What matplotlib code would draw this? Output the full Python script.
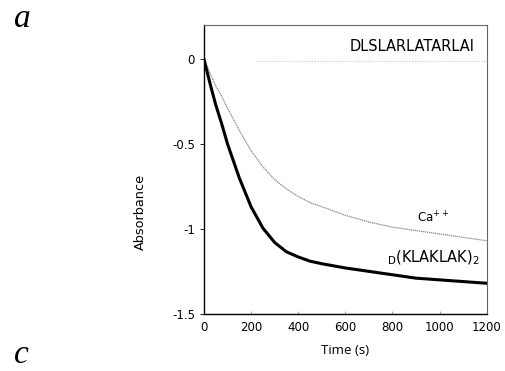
import matplotlib
matplotlib.use("Agg")
import matplotlib.pyplot as plt

# values (time in s, absorbance change)
t_vals = [0, 25, 50, 75, 100, 150, 200, 250, 300, 350, 400, 450, 500, 600, 700, 800, 900, 1000, 1100, 1200]
a_ca = [0, -0.08, -0.16, -0.22, -0.29, -0.42, -0.54, -0.635, -0.71, -0.765, -0.81, -0.845, -0.87, -0.92,
        -0.96, -0.99, -1.01, -1.03, -1.05, -1.07]
a_klak = [0, -0.14, -0.27, -0.38, -0.50, -0.70, -0.87, -0.995, -1.08, -1.135, -1.165, -1.19, -1.205, -1.23,
          -1.25, -1.27, -1.29, -1.30, -1.31, -1.32]

t_ctrl = [220, 500, 800, 1200]
a_ctrl = [-0.01, -0.01, -0.01, -0.01]

fig = plt.figure(figsize=(5.06, 3.71), dpi=100)
ax = fig.add_axes([0.403, 0.154, 0.559, 0.779])

ax.plot(t_ctrl, a_ctrl, color="#c4c4c4", lw=0.8, linestyle=(0, (1, 1.5)))
ax.plot(t_vals, a_ca, color="#888888", lw=0.9, linestyle=(0, (1, 0.6)))
ax.plot(t_vals, a_klak, color="black", lw=2.2, solid_capstyle="round", solid_joinstyle="round")

ax.set_xlim(0, 1200)
ax.set_ylim(-1.5, 0.2)
ax.set_xticks([0, 200, 400, 600, 800, 1000, 1200])
ax.set_xticklabels(["0", "200", "400", "600", "800", "1000", "1200"])
ax.set_yticks([0, -0.5, -1, -1.5])
ax.set_yticklabels(["0", "-0.5", "-1", "-1.5"])
ax.tick_params(axis="both", labelsize=8.5, colors="black", length=3, width=0.6)
ax.tick_params(axis="x", direction="in", length=2, color="#999999", pad=5)
for side in ["left", "bottom"]:
    ax.spines[side].set_linewidth(1.0)
for side in ["top", "right"]:
    ax.spines[side].set_linewidth(0.8)
    ax.spines[side].set_color("#666666")

ax.set_ylabel("Absorbance", fontsize=9.3)
ax.yaxis.set_label_coords(-0.20, 0.353)
ax.set_xlabel("Time (s)", fontsize=9.5, family="Open Sans", labelpad=7)

ax.text(1150, 0.07, "DLSLARLATARLAI", fontsize=10.5, ha="right", va="center")
ax.text(970, -0.935, r"Ca$^{++}$", fontsize=8.5, ha="center", va="center")
ax.text(1168, -1.17, r"$_{\mathregular{D}}$(KLAKLAK)$_{\mathregular{2}}$",
        fontsize=10.5, ha="right", va="center")

fig.text(0.028, 0.95, "a", fontsize=24, style="italic", family="Liberation Serif", va="center")
fig.text(0.028, 0.045, "c", fontsize=24, style="italic", family="Liberation Serif", va="center")

fig.savefig("out.png", dpi=100)
